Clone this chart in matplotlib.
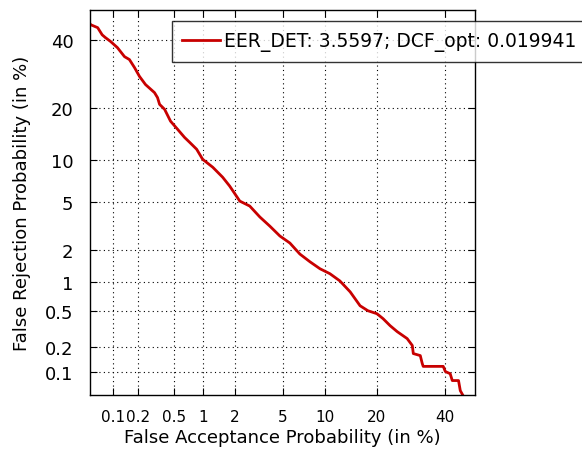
import numpy as np
import matplotlib
matplotlib.use("Agg")
import matplotlib.pyplot as plt
from statistics import NormalDist

# DET curve points (in %)
fa = [0.049, 0.051, 0.063, 0.072, 0.079, 0.092, 0.112, 0.137, 0.157, 0.181,
      0.207, 0.243, 0.308, 0.333, 0.351, 0.399, 0.463, 0.551, 0.653, 0.737,
      0.868, 0.996, 1.25, 1.55, 1.80, 2.22, 2.71, 3.30, 3.97, 4.77,
      5.68, 6.72, 7.92, 9.26, 10.75, 12.4, 14.3, 16.3, 18.0, 20.1,
      21.6, 23.4, 25.3, 28.1, 29.6, 29.9, 32.0, 32.6, 32.9, 39.3,
      40.0, 41.6, 42.3, 44.4, 45.0, 45.7]
fr = [45.7, 45.0, 44.0, 41.6, 40.7, 39.4, 37.4, 34.5, 33.6, 31.1,
      28.5, 26.2, 24.0, 22.7, 21.0, 19.8, 17.1, 15.4, 13.8, 12.9,
      11.7, 10.1, 8.95, 7.65, 6.62, 5.12, 4.69, 3.84, 3.24, 2.67,
      2.32, 1.85, 1.57, 1.35, 1.21, 1.03, 0.80, 0.574, 0.508, 0.472,
      0.417, 0.349, 0.299, 0.249, 0.207, 0.166, 0.157, 0.126, 0.116, 0.116,
      0.100, 0.094, 0.077, 0.077, 0.057, 0.051]

ticks = [0.1, 0.2, 0.5, 1, 2, 5, 10, 20, 40]
tick_labels = ["0.1", "0.2", "0.5", "1", "2", "5", "10", "20", "40"]
legend_label = "EER_DET: 3.5597; DCF_opt: 0.019941"

nd = NormalDist()
_ppf = np.vectorize(nd.inv_cdf, otypes=[float])
_cdf = np.vectorize(nd.cdf, otypes=[float])

def fwd(x):
    x = np.asarray(x, dtype=float)
    p = np.clip(x / 100.0, 1e-12, 1 - 1e-12)
    return _ppf(p)

def inv(z):
    z = np.asarray(z, dtype=float)
    return 100.0 * _cdf(z)

plt.rcParams['font.family'] = ['DejaVu Sans']

fig = plt.figure(figsize=(5.82, 4.52), dpi=100)
ax = fig.add_axes([90/582, 1 - 396/452, (475-90)/582, (396-11)/452])
ax.set_xscale('function', functions=(fwd, inv))
ax.set_yscale('function', functions=(fwd, inv))

line, = ax.plot(fa, fr, color='#c80000', lw=2, label=legend_label)

ax.set_xlim(0.05, 50)
ax.set_ylim(0.05, 50)
ax.set_xticks(ticks)
ax.set_xticklabels(tick_labels)
ax.set_yticks(ticks)
ax.set_yticklabels(tick_labels)
ax.minorticks_off()
ax.tick_params(direction='in', top=True, right=True, length=5, width=0.8)
ax.tick_params(axis='x', pad=10, labelsize=11)
ax.tick_params(axis='y', pad=12, labelsize=13)
ax.grid(True, linestyle=(0, (1, 3)), color='black', lw=0.8)
for s in ax.spines.values():
    s.set_linewidth(1.0)

ax.set_xlabel('False Acceptance Probability (in %)', fontsize=13, labelpad=3)
ax.set_ylabel('False Rejection Probability (in %)', fontsize=13, labelpad=10)

leg = fig.legend(handles=[line], loc='upper left',
                 bbox_to_anchor=(172/582, 1 - 22/452), fontsize=13.5,
                 frameon=True, fancybox=False, edgecolor='black',
                 borderpad=0.55, handlelength=2.0, handletextpad=0.2,
                 borderaxespad=0)
leg.get_frame().set_linewidth(1.0)

fig.savefig('out.png', dpi=100)
